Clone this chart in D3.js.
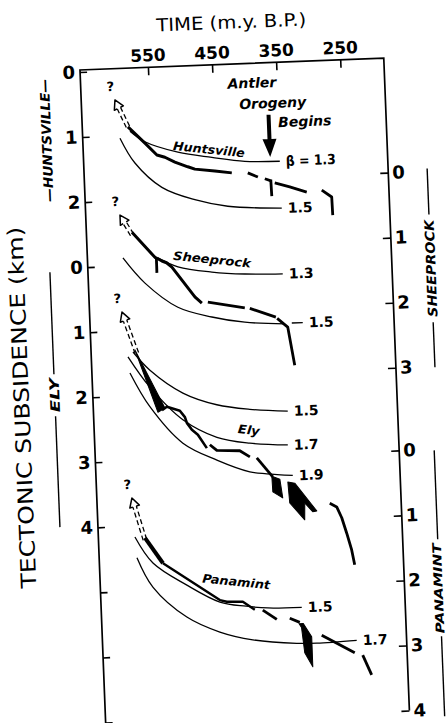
<!DOCTYPE html>
<html><head><meta charset="utf-8">
<script src="https://cdn.jsdelivr.net/npm/d3@7"></script>
<style>body{margin:0;background:#fff}svg{display:block}</style>
</head><body>
<svg id="c" width="448" height="723"></svg>
<script>
// ================= DATA =================
// time axis (m.y. B.P.)
const timeTicks = [550, 450, 350, 250];
// left axis: Huntsville (top) and Ely scales (km)
const huntsvilleTicks = [0, 1, 2];
const elyTicks = [0, 1, 2, 3, 4, 5, 6, 7];
const elyTickLabels = ["0", "1", "2", "3", "4", "", "", ""];
// right axis: Sheeprock and Panamint scales (km)
const sheeprockTicks = [0, 1, 2, 3];
const panamintTicks = [0, 1, 2, 3, 4];
// vertical offset of each basin's zero, in Huntsville km
const offHunt = 0, offSheep = 1.73, offEly = 3, offPan = 6;

// ---- Huntsville [time, subsidence km] ----
const huntObs = [[584.8,0.87],[559.3,1.13],[541.4,1.32],[529.1,1.36],[513.8,1.44],[493.9,1.52],[483.1,1.56],[452.1,1.60],[425.8,1.64]];
const huntObsPieces = [
  [[400.9,1.65],[385.4,1.72]],
  [[374.7,1.75],[364.0,1.79]],
  [[365.5,1.77],[364.9,2.02]],
  [[359.5,1.82],[336.4,1.89],[310.2,1.98]],
  [[286.7,1.96],[271.6,2.07],[271.1,2.35]]
];
const huntBeta13 = [[581.9,0.94],[559.3,1.11],[508.5,1.29],[455.9,1.39],[404.8,1.47],[350.3,1.49]];
const huntBeta15 = [[597.9,1.04],[576.1,1.43],[535.6,1.82],[485.0,2.03],[434.0,2.15],[350.1,2.21]];
const huntArrow = [[584.8,0.87],[603.4,0.45]];

// ---- Sheeprock ----
const sheepObs = [[585.0,0.76],[550.7,1.16],[547.0,1.18],[540.1,1.22],[533.0,1.25],[524.9,1.32],[490.9,1.79],[480.4,1.89]];
const sheepObsPieces = [
  [[548.5,1.17],[548.6,1.40]],
  [[471.0,1.88],[413.8,1.99]],
  [[406.0,2.00],[366.0,2.15]],
  [[364.0,2.17],[348.1,2.31],[339.5,2.90]]
];
const sheepBeta13 = [[546.1,1.17],[515.5,1.32],[462.9,1.42],[411.6,1.47],[352.6,1.49]];
const sheepBeta15 = [[600.6,1.15],[567.8,1.55],[518.0,1.94],[465.7,2.11],[414.6,2.21],[352.4,2.26]];
const sheepLeader15 = [[341.5,2.25],[324.4,2.25]];
const sheepArrow = [[585.0,0.80],[602.6,0.49]];

// ---- Ely ----
const elyWedge = [[587.5,1.30],[544.4,2.21],[555.5,2.27]];
const elyObs = [[549.1,2.24],[541.2,2.19],[521.3,2.26],[513.8,2.36],[511.1,2.45],[503.7,2.56],[494.7,2.64],[481.5,2.85]];
const elyObsPieces = [
  [[476.6,2.80],[466.1,2.89],[430.3,2.91],[415.0,3.01]],
  [[404.3,3.03],[380.6,3.33]],
  [[293.4,3.77],[282.8,3.83],[275.6,4.00],[268.8,4.24],[262.1,4.50],[258.3,4.73]]
];
const elyBlocks = [
  [[382.0,3.32],[369.7,3.37],[366.3,3.66],[381.4,3.56]],
  [[357.4,3.42],[346.7,3.44],[314.1,3.88],[320.5,3.89],[332.3,3.75],[333.4,4.01],[355.7,3.74]]
];
const elyBeta15 = [[590.7,1.33],[565.4,1.62],[515.5,1.99],[463.3,2.19],[412.2,2.28],[353.2,2.33]];
const elyBeta17 = [[598.8,1.40],[566.4,1.88],[517.1,2.40],[465.2,2.69],[414.3,2.80],[355.2,2.85]];
const elyBeta19 = [[596.7,1.65],[567.7,2.18],[518.5,2.76],[466.6,3.04],[416.0,3.24],[389.6,3.28],[349.3,3.32]];
const elyArrow = [[584.7,1.35],[605.4,0.71]];

// ---- Panamint ----
const panObsThick = [[583.4,1.19],[556.9,1.59]];
const panObs = [[556.9,1.59],[470.5,2.19],[459.7,2.22],[434.8,2.23],[416.7,2.36]];
const panObsPieces = [
  [[404.3,2.37],[383.0,2.52]],
  [[362.7,2.51],[347.4,2.58]],
  [[314.0,2.79],[263.6,3.08]],
  [[251.3,3.12],[238.6,3.43]]
];
const panBlocks = [[[348.5,2.60],[342.0,2.60],[329.7,2.81],[329.8,3.27],[341.5,3.05],[345.0,2.66]]];
const panBeta15 = [[599.0,1.17],[572.5,1.58],[521.0,1.94],[470.6,2.22],[430.0,2.30],[396.3,2.34],[343.4,2.35]];
const panBeta17 = [[597.1,1.49],[574.1,1.95],[523.0,2.43],[472.5,2.68],[421.6,2.82],[353.4,2.90],[322.2,2.91],[259.8,2.89]];
const panArrow = [[583.6,1.22],[601.3,0.57]];

// Antler orogeny marker (time, Huntsville km)
const antlerTime = 365;
const antlerDepths = [0.77, 1.42];
const antlerWords = ["Antler", "Orogeny", "Begins"];
const antlerWordPos = [[389, 0.27], [357.7, 0.59], [309, 0.89]];

// ================= DRAWING =================
const svg = d3.select("#c");
const FONT = "DejaVu Sans, Liberation Sans, Arial, sans-serif";
const g = svg.append("g").attr("transform", "rotate(-2.25,80,70)");

const x = d3.scaleLinear().domain([656, 182]).range([80, 384]);
const mkY = off => d3.scaleLinear().domain([-off, 10 - off]).range([72, 723]);
const yH = mkY(offHunt), yS = mkY(offSheep), yE = mkY(offEly), yP = mkY(offPan);

// frame
g.append("path").attr("d", "M80,726L80,70L384,70L384,723")
  .attr("fill", "none").attr("stroke", "#000").attr("stroke-width", 1.7);

function styleAxis(sel, size) {
  sel.select(".domain").remove();
  sel.attr("font-family", FONT).attr("font-size", size).attr("font-weight", "bold");
  sel.selectAll("line").attr("stroke-width", 1.6);
  sel.selectAll("text").attr("fill", "#000");
}
g.append("g").attr("transform", "translate(0,70)")
  .call(d3.axisTop(x).tickValues(timeTicks).tickSize(-8).tickPadding(6))
  .call(s => styleAxis(s, 17));
g.append("g").attr("transform", "translate(80,0)")
  .call(d3.axisLeft(yH).tickValues(huntsvilleTicks).tickSize(-7).tickPadding(5))
  .call(s => styleAxis(s, 18));
g.append("g").attr("transform", "translate(80,0)")
  .call(d3.axisLeft(yE).tickValues(elyTicks).tickSize(-7).tickPadding(5).tickFormat((d, i) => elyTickLabels[i]))
  .call(s => styleAxis(s, 18));
g.append("g").attr("transform", "translate(384,0)")
  .call(d3.axisRight(yS).tickValues(sheeprockTicks).tickSize(-8).tickPadding(4))
  .call(s => styleAxis(s, 18));
g.append("g").attr("transform", "translate(384,0)")
  .call(d3.axisRight(yP).tickValues(panamintTicks).tickSize(-8).tickPadding(4))
  .call(s => styleAxis(s, 18));

// titles
g.append("text").attr("x", 233).attr("y", 28).attr("text-anchor", "middle")
  .attr("dominant-baseline", "central").attr("font-family", FONT).attr("font-size", 18)
  .attr("textLength", 150).attr("lengthAdjust", "spacingAndGlyphs")
  .text("TIME (m.y. B.P.)");
g.append("text").attr("transform", "translate(9,405) rotate(-90)").attr("text-anchor", "middle")
  .attr("dominant-baseline", "central").attr("font-family", FONT).attr("font-size", 21)
  .attr("textLength", 362).attr("lengthAdjust", "spacingAndGlyphs")
  .text("TECTONIC SUBSIDENCE (km)");

// side basin labels
function sideText(cx, cy, txt, len, fs) {
  g.append("text").attr("transform", `translate(${cx},${cy}) rotate(-90)`).attr("text-anchor", "middle")
    .attr("dominant-baseline", "central").attr("font-family", FONT).attr("font-size", fs || 13)
    .attr("font-weight", "bold").attr("font-style", "italic")
    .attr("textLength", len).attr("lengthAdjust", "spacingAndGlyphs").text(txt);
}
function vline(xx, y1, y2) {
  g.append("line").attr("x1", xx).attr("x2", xx).attr("y1", y1).attr("y2", y2)
    .attr("stroke", "#000").attr("stroke-width", 1.4);
}
sideText(44, 139, "—HUNTSVILLE—", 123);
vline(42, 271, 373); sideText(42, 394, "ELY", 34); vline(42, 415, 526);
vline(423, 182, 228); sideText(423, 282, "SHEEPROCK", 97); vline(423, 336, 381);
vline(419, 464, 553); sideText(418, 602, "PANAMINT", 90, 12); vline(419, 650, 730);

// generators
const smooth = ys => d3.line().x(d => x(d[0])).y(d => ys(d[1])).curve(d3.curveCatmullRom.alpha(0.5));
const straight = ys => d3.line().x(d => x(d[0])).y(d => ys(d[1]));

function beta(ys, data, label, len) {
  g.append("path").attr("d", smooth(ys)(data)).attr("fill", "none")
    .attr("stroke", "#000").attr("stroke-width", 1.3);
  if (label) {
    const e = data[data.length - 1];
    const t = g.append("text").attr("x", x(e[0]) + 6).attr("y", ys(e[1]))
      .attr("dominant-baseline", "central").attr("font-family", FONT)
      .attr("font-size", 14).attr("font-weight", "bold").text(label);
    if (len) t.attr("textLength", len).attr("lengthAdjust", "spacingAndGlyphs");
  }
}
function obs(ys, data, w) {
  g.append("path").attr("d", straight(ys)(data)).attr("fill", "none")
    .attr("stroke", "#000").attr("stroke-width", w || 2.8)
    .attr("stroke-linejoin", "round").attr("stroke-linecap", "butt");
}
function block(ys, data) {
  g.append("path").attr("d", straight(ys)(data) + "Z").attr("fill", "#000")
    .attr("stroke", "#000").attr("stroke-width", 1).attr("stroke-linejoin", "round");
}
function openArrow(ys, pair) {
  const tx = x(pair[0][0]), ty = ys(pair[0][1]), hx = x(pair[1][0]), hy = ys(pair[1][1]);
  const dx = hx - tx, dy = hy - ty, L = Math.hypot(dx, dy);
  const ux = dx / L, uy = dy / L, nx = -uy, ny = ux;
  const hl = 9, hw = 5, sw = 1.8;
  const bx = hx - ux * hl, by = hy - uy * hl;
  [-1, 1].forEach(s => g.append("line")
    .attr("x1", tx + nx * sw * s).attr("y1", ty + ny * sw * s)
    .attr("x2", bx + nx * sw * s).attr("y2", by + ny * sw * s)
    .attr("stroke", "#000").attr("stroke-width", 1.3).attr("stroke-dasharray", "5,3"));
  g.append("path").attr("d",
    `M${bx + nx * sw},${by + ny * sw}L${bx + nx * hw},${by + ny * hw}L${hx},${hy}L${bx - nx * hw},${by - ny * hw}L${bx - nx * sw},${by - ny * sw}`)
    .attr("fill", "#fff").attr("stroke", "#000").attr("stroke-width", 1.5).attr("stroke-linejoin", "round");
  g.append("text").attr("x", hx - 4).attr("y", hy - 9).attr("text-anchor", "middle")
    .attr("font-family", FONT).attr("font-size", 13).attr("font-weight", "bold").text("?");
}
function basinName(ys, t, d, txt, len) {
  const px = x(t), py = ys(d);
  g.append("text").attr("transform", `translate(${px},${py}) rotate(8)`)
    .attr("text-anchor", "middle").attr("dominant-baseline", "central")
    .attr("font-family", FONT).attr("font-size", 12).attr("font-style", "italic")
    .attr("font-weight", "bold").attr("textLength", len).attr("lengthAdjust", "spacingAndGlyphs").text(txt);
}

// Huntsville
beta(yH, huntBeta13, "β = 1.3", 50);
beta(yH, huntBeta15, "1.5");
obs(yH, huntObs, 3);
huntObsPieces.forEach(p => obs(yH, p));
openArrow(yH, huntArrow);
basinName(yH, 460, 1.27, "Huntsville", 72);

// Sheeprock
beta(yS, sheepBeta13, "1.3");
beta(yS, sheepBeta15, null);
beta(yS, sheepLeader15, "1.5");
obs(yS, sheepObs, 3);
sheepObsPieces.forEach(p => obs(yS, p));
openArrow(yS, sheepArrow);
basinName(yS, 462, 1.23, "Sheeprock", 78);

// Ely
beta(yE, elyBeta15, "1.5");
beta(yE, elyBeta17, "1.7");
beta(yE, elyBeta19, "1.9");
block(yE, elyWedge);
obs(yE, elyObs, 2.6);
elyObsPieces.forEach(p => obs(yE, p));
elyBlocks.forEach(b => block(yE, b));
openArrow(yE, elyArrow);
basinName(yE, 415, 2.6, "Ely", 22);

// Panamint
beta(yP, panBeta15, "1.5");
beta(yP, panBeta17, "1.7");
obs(yP, panObsThick, 4);
obs(yP, panObs, 2.4);
panObsPieces.forEach(p => obs(yP, p));
panBlocks.forEach(b => block(yP, b));
openArrow(yP, panArrow);
basinName(yP, 444, 1.92, "Panamint", 68);

// Antler orogeny arrow + text
(function () {
  const ax = x(antlerTime), y0 = yH(antlerDepths[0]), y1 = yH(antlerDepths[1]);
  const hh = 18, hw = 7, sw = 2;
  g.append("path").attr("d",
    `M${ax - sw},${y0}L${ax + sw},${y0}L${ax + sw},${y1 - hh}L${ax + hw},${y1 - hh}L${ax},${y1}L${ax - hw},${y1 - hh}L${ax - sw},${y1 - hh}Z`)
    .attr("fill", "#000");
  antlerWords.forEach((w, i) => {
    g.append("text").attr("x", x(antlerWordPos[i][0])).attr("y", yH(antlerWordPos[i][1]))
      .attr("text-anchor", "middle").attr("dominant-baseline", "central")
      .attr("font-family", FONT).attr("font-size", 14).attr("font-weight", "bold")
      .attr("font-style", "italic").text(w);
  });
})();
</script>
</body></html>
